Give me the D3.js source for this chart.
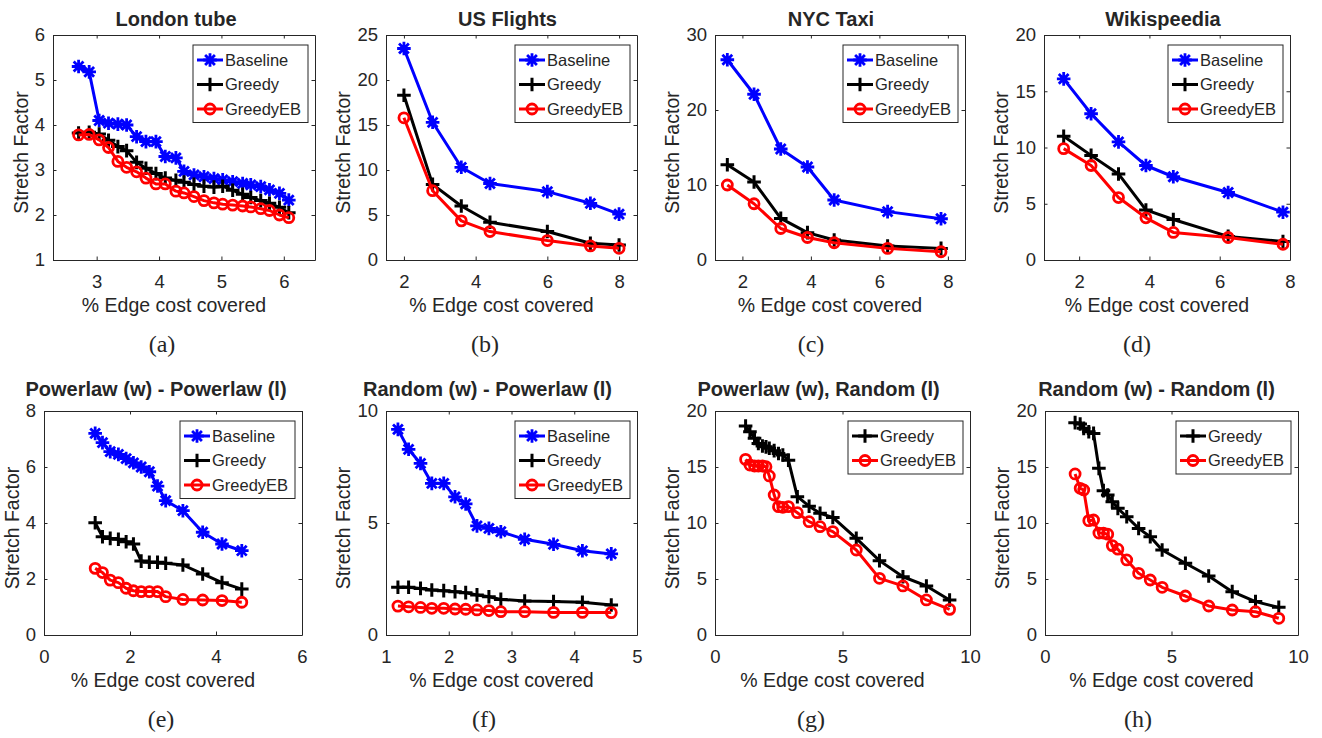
<!DOCTYPE html>
<html><head><meta charset="utf-8">
<script src="https://cdn.jsdelivr.net/npm/d3@7"></script>
<style>
body{margin:0;background:#fff}
svg{display:block}
text{font-family:"Liberation Sans",Arial,Helvetica,sans-serif;fill:#262626}
</style>
</head><body>
<svg id="chart" width="1322" height="738"></svg>
<script>
// ---------------- DATA ----------------
const seriesNames = ["Baseline", "Greedy", "GreedyEB"];
const panelTitles = ["London tube", "US Flights", "NYC Taxi", "Wikispeedia",
  "Powerlaw (w) - Powerlaw (l)", "Random (w) - Powerlaw (l)", "Powerlaw (w), Random (l)", "Random (w) - Random (l)"];
const panelCaptions = ["(a)", "(b)", "(c)", "(d)", "(e)", "(f)", "(g)", "(h)"];
const xLabelText = "% Edge cost covered";
const yLabelText = "Stretch Factor";

// (a) London tube
const a_x = [2.71,2.88,3.04,3.19,3.34,3.48,3.64,3.79,3.95,4.10,4.27,4.40,4.56,4.72,4.88,5.02,5.18,5.34,5.47,5.63,5.77,5.93,6.08];
const a_baseline = [5.3,5.18,4.1,4.04,4.02,4.0,3.74,3.63,3.63,3.3,3.27,2.97,2.89,2.85,2.81,2.78,2.74,2.7,2.67,2.63,2.56,2.48,2.33];
const a_greedy = [3.82,3.84,3.8,3.66,3.52,3.43,3.17,3.04,2.92,2.82,2.77,2.73,2.68,2.64,2.62,2.64,2.55,2.46,2.39,2.32,2.26,2.17,2.05];
const a_greedyEB = [3.78,3.79,3.67,3.5,3.19,3.06,2.96,2.82,2.69,2.69,2.53,2.49,2.41,2.32,2.27,2.24,2.22,2.2,2.18,2.14,2.1,2.0,1.94];
const a_xTicks = [3,4,5,6];
const a_yTicks = [1,2,3,4,5,6];

// (b) US Flights
const b_x = [2.0,2.8,3.6,4.4,6.0,7.2,8.0];
const b_baseline = [23.5,15.3,10.3,8.5,7.6,6.3,5.1];
const b_greedy = [18.3,8.4,6.0,4.2,3.16,1.86,1.67];
const b_greedyEB = [15.8,7.7,4.35,3.16,2.16,1.56,1.3];
const b_xTicks = [2,4,6,8];
const b_yTicks = [0,5,10,15,20,25];

// (c) NYC Taxi
const c_x = [1.56,2.34,3.12,3.9,4.68,6.24,7.8];
const c_baseline = [26.7,22.1,14.8,12.4,8.0,6.45,5.5];
const c_greedy = [12.7,10.4,5.55,3.65,2.67,1.87,1.55];
const c_greedyEB = [10.0,7.5,4.2,3.0,2.3,1.55,1.1];
const c_xTicks = [2,4,6,8];
const c_yTicks = [0,10,20,30];

// (d) Wikispeedia
const d_x = [1.56,2.34,3.12,3.9,4.68,6.24,7.8];
const d_baseline = [16.1,13.0,10.5,8.4,7.4,6.0,4.25];
const d_greedy = [11.0,9.3,7.65,4.45,3.6,2.1,1.65];
const d_greedyEB = [9.9,8.4,5.55,3.75,2.45,2.0,1.4];
const d_xTicks = [2,4,6,8];
const d_yTicks = [0,5,10,15,20];

// (e) Powerlaw (w) - Powerlaw (l)
const e_x = [1.19,1.36,1.54,1.73,1.91,2.08,2.26,2.45,2.64,2.83,3.23,3.69,4.14,4.60];
const e_baseline = [7.2,6.87,6.55,6.45,6.3,6.15,6.0,5.83,5.32,4.8,4.44,3.67,3.25,3.01];
const e_greedy = [4.01,3.51,3.45,3.42,3.33,3.25,2.64,2.6,2.6,2.56,2.5,2.18,1.87,1.64];
const e_greedyEB = [2.38,2.23,1.96,1.87,1.67,1.58,1.55,1.55,1.55,1.37,1.27,1.25,1.23,1.17];
const e_xTicks = [0,2,4,6];
const e_yTicks = [0,2,4,6,8];

// (f) Random (w) - Powerlaw (l)
const f_x = [1.19,1.36,1.55,1.73,1.92,2.1,2.27,2.45,2.64,2.83,3.21,3.67,4.13,4.59];
const f_baseline = [9.18,8.29,7.66,6.77,6.77,6.17,5.85,4.87,4.76,4.61,4.27,4.05,3.76,3.62];
const f_greedy = [2.13,2.13,2.08,2.01,1.98,1.93,1.89,1.79,1.71,1.59,1.52,1.49,1.46,1.34];
const f_greedyEB = [1.29,1.26,1.23,1.19,1.19,1.16,1.15,1.12,1.09,1.04,1.04,1.01,1.01,1.0];
const f_xTicks = [1,2,3,4,5];
const f_yTicks = [0,5,10];

// (g) Powerlaw (w), Random (l)
const g_x = [1.2,1.37,1.55,1.7,1.86,2.0,2.13,2.32,2.49,2.66,2.88,3.23,3.69,4.12,4.62,5.54,6.45,7.37,8.29,9.2];
const g_greedy = [18.66,18.15,17.56,17.1,16.88,16.8,16.67,16.46,16.2,16.07,15.6,12.35,11.5,10.86,10.5,8.63,6.64,5.2,4.38,3.13];
const g_greedyEB = [15.68,15.18,15.09,15.09,15.09,15.03,14.2,12.5,11.46,11.4,11.46,10.92,10.12,9.67,9.23,7.59,5.06,4.38,3.13,2.29];
const g_xTicks = [0,5,10];
const g_yTicks = [0,5,10,15,20];

// (h) Random (w) - Random (l)
const h_x = [1.19,1.39,1.53,1.73,1.92,2.13,2.31,2.48,2.66,2.88,3.23,3.70,4.16,4.63,5.55,6.47,7.4,8.32,9.24];
const h_greedy = [18.96,18.84,18.45,18.15,18.0,14.88,12.89,12.5,11.9,11.31,10.56,9.52,8.78,7.59,6.4,5.27,3.87,2.98,2.47];
const h_greedyEB = [14.38,13.1,12.95,10.21,10.27,9.1,9.1,9.0,7.98,7.66,6.7,5.51,4.91,4.26,3.48,2.59,2.23,2.08,1.49];
const h_xTicks = [0,5,10];
const h_yTicks = [0,5,10,15,20];

// ---------------- LAYOUT / STYLE ----------------
const styles = {
  Baseline: {color: "#0000ff", marker: "star"},
  Greedy:   {color: "#000000", marker: "plus"},
  GreedyEB: {color: "#ff0000", marker: "circle"}
};

const panels = [
  {box:[53,315,35,260],  xd:[2.3,6.5], yd:[1,6],  xt:a_xTicks, yt:a_yTicks, x:a_x, s:[a_baseline,a_greedy,a_greedyEB], names:seriesNames, tdx:-8, cap:162},
  {box:[386,637,35,260], xd:[1.5,8.5], yd:[0,25], xt:b_xTicks, yt:b_yTicks, x:b_x, s:[b_baseline,b_greedy,b_greedyEB], names:seriesNames, tdx:-4, cap:485},
  {box:[715,965,35,260], xd:[1.2,8.5], yd:[0,30], xt:c_xTicks, yt:c_yTicks, x:c_x, s:[c_baseline,c_greedy,c_greedyEB], names:seriesNames, tdx:-9, cap:811},
  {box:[1044,1290,35,260], xd:[1,8], yd:[0,20], xt:d_xTicks, yt:d_yTicks, x:d_x, s:[d_baseline,d_greedy,d_greedyEB], names:seriesNames, tdx:-4, cap:1137},
  {box:[44,302,411,635], xd:[0,6], yd:[0,8], xt:e_xTicks, yt:e_yTicks, x:e_x, s:[e_baseline,e_greedy,e_greedyEB], names:seriesNames, tdx:-17, cap:161},
  {box:[386,637,411,635], xd:[1,5], yd:[0,10], xt:f_xTicks, yt:f_yTicks, x:f_x, s:[f_baseline,f_greedy,f_greedyEB], names:seriesNames, tdx:-24, cap:484},
  {box:[715,970,411,635], xd:[0,10], yd:[0,20], xt:g_xTicks, yt:g_yTicks, x:g_x, s:[g_greedy,g_greedyEB], names:["Greedy","GreedyEB"], tdx:-24, cap:811},
  {box:[1045,1298,411,635], xd:[0,10], yd:[0,20], xt:h_xTicks, yt:h_yTicks, x:h_x, s:[h_greedy,h_greedyEB], names:["Greedy","GreedyEB"], tdx:-15, cap:1138}
];

const svg = d3.select("#chart");
const AX = "#262626";

function drawMarker(g, type, cx, cy, color) {
  const r = 6.8;
  if (type === "star") {
    const d = r * 0.72;
    g.append("path").attr("d",
      `M${cx-r},${cy}L${cx+r},${cy}M${cx},${cy-r}L${cx},${cy+r}` +
      `M${cx-d},${cy-d}L${cx+d},${cy+d}M${cx-d},${cy+d}L${cx+d},${cy-d}`)
      .attr("stroke", color).attr("stroke-width", 2.8).attr("fill", "none");
  } else if (type === "plus") {
    g.append("path").attr("d", `M${cx-r},${cy}L${cx+r},${cy}M${cx},${cy-r}L${cx},${cy+r}`)
      .attr("stroke", color).attr("stroke-width", 3).attr("fill", "none");
  } else {
    g.append("circle").attr("cx", cx).attr("cy", cy).attr("r", 5)
      .attr("stroke", color).attr("stroke-width", 2.8).attr("fill", "none");
  }
}

panels.forEach((p, i) => {
  const [L, R, T, B] = p.box;
  const xs = d3.scaleLinear().domain(p.xd).range([L, R]);
  const ys = d3.scaleLinear().domain(p.yd).range([B, T]);
  const g = svg.append("g");

  g.append("rect").attr("x", L).attr("y", T).attr("width", R - L).attr("height", B - T).attr("fill", "#fff");

  const tl = 3.5;
  const bx = g.append("g").attr("transform", `translate(0,${B})`)
    .call(d3.axisBottom(xs).tickValues(p.xt).tickSizeInner(-tl).tickSizeOuter(0).tickPadding(12).tickFormat(d3.format("d")));
  const tx = g.append("g").attr("transform", `translate(0,${T})`)
    .call(d3.axisTop(xs).tickValues(p.xt).tickSizeInner(-tl).tickSizeOuter(0).tickFormat(""));
  const ly = g.append("g").attr("transform", `translate(${L},0)`)
    .call(d3.axisLeft(ys).tickValues(p.yt).tickSizeInner(-tl).tickSizeOuter(0).tickPadding(10).tickFormat(d3.format("d")));
  const ry = g.append("g").attr("transform", `translate(${R},0)`)
    .call(d3.axisRight(ys).tickValues(p.yt).tickSizeInner(-tl).tickSizeOuter(0).tickFormat(""));
  [bx, tx, ly, ry].forEach(a => {
    a.select(".domain").attr("stroke", AX).attr("stroke-width", 1);
    a.selectAll(".tick line").attr("stroke", AX).attr("stroke-width", 1);
    a.selectAll(".tick text").attr("fill", AX).style("font-size", "18.5px")
      .style("font-family", '"Liberation Sans",Arial,sans-serif');
  });
  bx.selectAll(".tick text").attr("dy", "0.85em");
  ly.selectAll(".tick text").attr("x", -8);

  p.s.forEach((vals, k) => {
    const st = styles[p.names[k]];
    const pts = p.x.map((xv, j) => [xs(xv), ys(vals[j])]);
    g.append("path").attr("d", d3.line()(pts)).attr("fill", "none")
      .attr("stroke", st.color).attr("stroke-width", 3).attr("stroke-linejoin", "round");
    const mg = g.append("g");
    pts.forEach(pt => drawMarker(mg, st.marker, pt[0], pt[1], st.color));
  });

  const n = p.names.length;
  const lg = g.append("g");
  const lw = 115, lh = 24.5 * n + 4;
  const lx = R - 7 - lw, lyy = T + 10;
  lg.append("rect").attr("x", lx).attr("y", lyy).attr("width", lw).attr("height", lh)
    .attr("fill", "#fff").attr("stroke", AX).attr("stroke-width", 1);
  p.names.forEach((nm, k) => {
    const st = styles[nm];
    const cy = lyy + 15 + 24.5 * k;
    lg.append("line").attr("x1", lx + 4).attr("x2", lx + 30).attr("y1", cy).attr("y2", cy)
      .attr("stroke", st.color).attr("stroke-width", 3);
    drawMarker(lg, st.marker, lx + 17, cy, st.color);
    lg.append("text").attr("x", lx + 32).attr("y", cy).attr("dy", "0.36em")
      .style("font-size", "16.5px").attr("fill", "#000").text(nm);
  });

  const titleY = i < 4 ? T - 9 : T - 15;
  g.append("text").attr("x", (L + R) / 2 + p.tdx).attr("y", titleY)
    .attr("text-anchor", "middle").style("font-size", "20px").style("font-weight", "bold")
    .attr("fill", "#000").text(panelTitles[i]);
  g.append("text").attr("x", (L + R) / 2 - 10).attr("y", B + 52)
    .attr("text-anchor", "middle").style("font-size", "19.5px").text(xLabelText);
  let maxW = 0;
  ly.selectAll(".tick text").each(function() { maxW = Math.max(maxW, this.getBBox().width); });
  const ylx = L - 8 - maxW - 7;
  const ylc = (T + B) / 2 + 5;
  g.append("text").attr("transform", `translate(${ylx},${ylc}) rotate(-90)`)
    .attr("text-anchor", "middle").style("font-size", "19.5px").text(yLabelText);
  g.append("text").attr("x", p.cap).attr("y", B + 92).attr("text-anchor", "middle")
    .style("font-family", '"Liberation Serif","Times New Roman",serif').style("font-size", "24px")
    .attr("fill", "#000").text(panelCaptions[i]);
});
</script>
</body></html>
